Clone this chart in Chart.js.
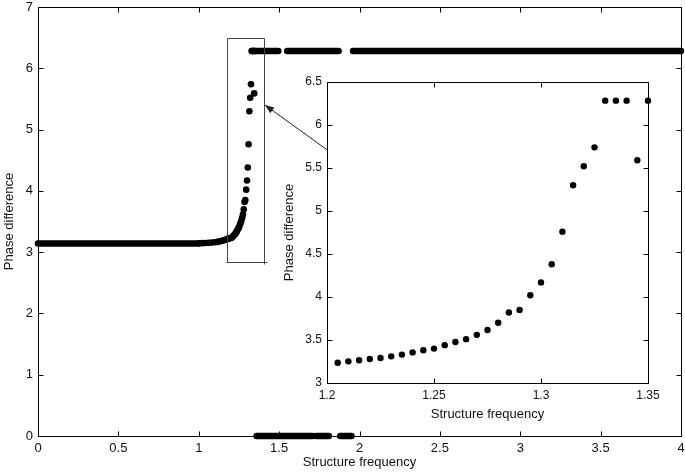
<!DOCTYPE html>
<html>
<head>
<meta charset="utf-8">
<script src="https://cdn.jsdelivr.net/npm/chart.js@4/dist/chart.umd.min.js"></script>
<style>
html, body { margin: 0; padding: 0; background: #fff; }
#wrap { position: relative; width: 685px; height: 472px; }
#main { position: absolute; left: 0; top: 0; }
#inset { position: absolute; left: 270px; top: 62px; }
</style>
</head>
<body>
<div id="wrap">
  <canvas id="main" width="685" height="472"></canvas>
  <canvas id="inset" width="410" height="360"></canvas>
</div>
<script>
// flat part of the curve (dots overlap into a solid band)
const flatFreq = [0, 1.0]
const flatPhase = [3.1416, 3.1416]

// where the curve starts to bend up
const bendFreq = [1.00, 1.02, 1.04, 1.06, 1.08, 1.10, 1.11, 1.12, 1.13, 1.14, 1.15, 1.16, 1.17, 1.18, 1.19, 1.20]
const bendPhase = [3.145, 3.147, 3.149, 3.152, 3.156, 3.161, 3.165, 3.170, 3.176, 3.182, 3.190, 3.198, 3.207, 3.216, 3.224, 3.230]

// zoomed points (inset)
const insetFreq = [1.205, 1.21, 1.215, 1.22, 1.225, 1.23, 1.235, 1.24, 1.245, 1.25,
                   1.255, 1.26, 1.265, 1.27, 1.275, 1.28, 1.285, 1.29, 1.295, 1.30,
                   1.305, 1.31, 1.315, 1.32, 1.325, 1.33, 1.335, 1.34, 1.345, 1.35]
const insetPhase = [3.236, 3.252, 3.264, 3.279, 3.290, 3.310, 3.330, 3.356, 3.380, 3.400,
                    3.440, 3.477, 3.510, 3.560, 3.616, 3.700, 3.820, 3.850, 4.020, 4.170,
                    4.380, 4.760, 5.300, 5.520, 5.740, 6.283, 6.283, 6.283, 5.590, 6.283]

// dense runs of dots at 2*pi and at 0 (start, end frequency)
const twoPiRuns = [[1.33, 1.495], [1.55, 1.87], [1.96, 4.0]]
const twoPiPhase = 6.283
const zeroRuns = [[1.36, 1.71], [1.73, 1.81], [1.88, 1.95]]
const zeroPhase = 0

const mainXTicks = [0, 0.5, 1, 1.5, 2, 2.5, 3, 3.5, 4]
const mainYTicks = [0, 1, 2, 3, 4, 5, 6, 7]
const insetXTicks = [1.2, 1.25, 1.3, 1.35]
const insetYTicks = [3, 3.5, 4, 4.5, 5, 5.5, 6, 6.5]

Chart.defaults.font.family = "'Liberation Sans', Arial, Helvetica, sans-serif"
Chart.defaults.color = '#111'

const pts = (xs, ys) => xs.map((x, i) => ({x: x, y: ys[i]}))

function band(x0, x1, y){
  return {
    data: [{x: x0, y: y}, {x: x1, y: y}],
    showLine: true,
    borderColor: '#000',
    borderWidth: 6.5,
    borderCapStyle: 'round',
    pointRadius: 0,
    clip: false
  }
}

function dots(data, r){
  return {
    data: data,
    showLine: false,
    pointRadius: r,
    pointBackgroundColor: '#000',
    pointBorderColor: '#000',
    pointBorderWidth: 0,
    clip: false
  }
}

// box round the plot with inward tick marks, matlab style
const boxTicks = {
  id: 'boxTicks',
  beforeDatasetsDraw(chart){
    const {ctx, chartArea: a} = chart
    const x = chart.scales.x, y = chart.scales.y
    const len = 5
    const L = Math.round(a.left) + 0.5, R = Math.round(a.right) + 0.5
    const T = Math.round(a.top) + 0.5, B = Math.round(a.bottom) + 0.5
    ctx.save()
    ctx.strokeStyle = '#000'
    ctx.lineWidth = 1
    ctx.strokeRect(L, T, R - L, B - T)
    ctx.beginPath()
    x.ticks.forEach(t => {
      const p = Math.round(x.getPixelForValue(t.value)) + 0.5
      ctx.moveTo(p, B); ctx.lineTo(p, B - len)
      ctx.moveTo(p, T); ctx.lineTo(p, T + len)
    })
    y.ticks.forEach(t => {
      const p = Math.round(y.getPixelForValue(t.value)) + 0.5
      ctx.moveTo(L, p); ctx.lineTo(L + len, p)
      ctx.moveTo(R, p); ctx.lineTo(R - len, p)
    })
    ctx.stroke()
    ctx.restore()
  }
}

// zoom rectangle and arrow pointing at it (in data coords of the main plot)
const zoomMark = {
  id: 'zoomMark',
  afterDatasetsDraw(chart){
    const {ctx} = chart
    const x = chart.scales.x, y = chart.scales.y
    const px = v => x.getPixelForValue(v), py = v => y.getPixelForValue(v)
    const x0 = Math.round(px(1.175)) + 0.5, x1 = Math.round(px(1.405)) + 0.5
    const y0 = Math.round(py(6.49)) + 0.5, y1 = Math.round(py(2.84)) + 0.5
    ctx.save()
    ctx.strokeStyle = '#444'
    ctx.lineWidth = 1
    ctx.beginPath()
    ctx.moveTo(x0, y1); ctx.lineTo(x0, y0); ctx.lineTo(x1, y0); ctx.lineTo(x1, y1 + 2)
    ctx.moveTo(x0 - 1, y1); ctx.lineTo(x1 + 3, y1)
    ctx.stroke()
    // arrow
    const tx = px(1.798), ty = py(4.67)
    const hx = px(1.412), hy = py(5.40)
    const ang = Math.atan2(hy - ty, hx - tx)
    ctx.strokeStyle = '#222'
    ctx.beginPath()
    ctx.moveTo(tx, ty); ctx.lineTo(hx, hy)
    ctx.stroke()
    ctx.fillStyle = '#222'
    ctx.beginPath()
    ctx.moveTo(hx, hy)
    ctx.lineTo(hx - 9 * Math.cos(ang) + 3.5 * Math.sin(ang), hy - 9 * Math.sin(ang) - 3.5 * Math.cos(ang))
    ctx.lineTo(hx - 9 * Math.cos(ang) - 3.5 * Math.sin(ang), hy - 9 * Math.sin(ang) + 3.5 * Math.cos(ang))
    ctx.closePath()
    ctx.fill()
    ctx.restore()
  }
}

// fixed scale size; drop the extra room chart.js keeps for edge labels
function fixSize(w, h){
  return s => {
    if (w) s.width = w
    if (h) s.height = h
    s.paddingLeft = 0
    s.paddingRight = 0
    s.paddingTop = 0
    s.paddingBottom = 0
  }
}

function axis(ticks, min, max, size, title, fit, titlePad, tickPad){
  return {
    type: 'linear',
    min: min,
    max: max,
    grid: {display: false, drawTicks: false},
    border: {display: false},
    afterBuildTicks: s => { s.ticks = ticks.map(v => ({value: v})) },
    afterFit: fit,
    ticks: {
      font: {size: size},
      padding: tickPad,
      autoSkip: false,
      maxRotation: 0,
      callback: v => String(v)
    },
    title: {display: true, text: title, font: {size: 13}, padding: titlePad}
  }
}

const mainSets = [band(flatFreq[0], flatFreq[1], flatPhase[0])]
twoPiRuns.forEach(r => mainSets.push(band(r[0], r[1], twoPiPhase)))
zeroRuns.forEach(r => mainSets.push(band(r[0], r[1], zeroPhase)))
mainSets.push(dots(pts(bendFreq, bendPhase).concat(pts(insetFreq, insetPhase)), 3.3))

new Chart(document.getElementById('main'), {
  type: 'scatter',
  data: {datasets: mainSets},
  options: {
    responsive: false,
    animation: false,
    layout: {padding: {top: 7, right: 4, left: 0, bottom: 0}},
    plugins: {legend: {display: false}, tooltip: {enabled: false}},
    scales: {
      x: axis(mainXTicks, 0, 4, 13, 'Structure frequency', fixSize(0, 36), {top: 0, bottom: 2}, 5),
      y: axis(mainYTicks, 0, 7, 13, 'Phase difference', fixSize(38, 0), {top: 2, bottom: 0}, 5)
    }
  },
  plugins: [boxTicks, zoomMark]
})

new Chart(document.getElementById('inset'), {
  type: 'scatter',
  data: {datasets: [dots(pts(insetFreq, insetPhase), 3.2)]},
  options: {
    responsive: false,
    animation: false,
    layout: {padding: {top: 20, right: 32, left: 10, bottom: 0}},
    plugins: {legend: {display: false}, tooltip: {enabled: false}},
    scales: {
      x: axis(insetXTicks, 1.2, 1.35, 12, 'Structure frequency', fixSize(0, 39), {top: 0, bottom: 0}, 5),
      y: axis(insetYTicks, 3, 6.5, 12, 'Phase difference', fixSize(47, 0), {top: 2, bottom: 0}, 5)
    }
  },
  plugins: [boxTicks]
})
</script>
</body>
</html>
